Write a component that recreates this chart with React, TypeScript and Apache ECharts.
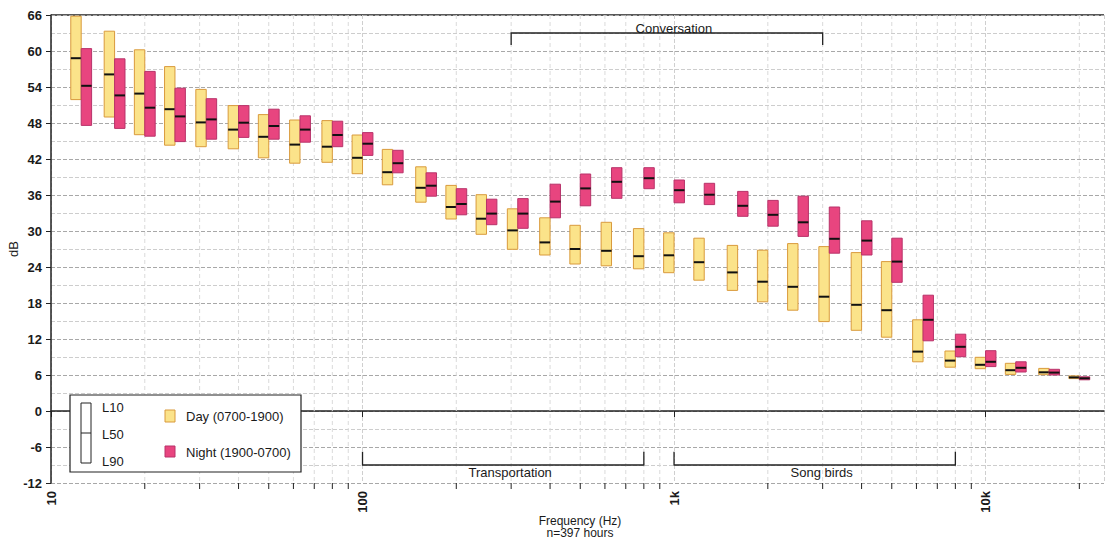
import React, { useEffect, useRef } from "react";
import * as echarts from "echarts";

// 1/3-octave band centre frequencies (Hz)
const freqs = [12.5, 16, 20, 25, 31.5, 40, 50, 63, 80, 100, 125, 160, 200, 250, 315, 400, 500, 630, 800, 1000, 1250, 1600, 2000, 2500, 3150, 4000, 5000, 6300, 8000, 10000, 12500, 16000, 20000];

const dayL10 = [65.8, 63.3, 60.2, 57.4, 53.6, 50.9, 49.4, 48.5, 48.4, 46.0, 43.6, 40.7, 37.6, 36.05, 33.7, 32.2, 30.95, 31.45, 30.4, 29.7, 28.8, 27.6, 26.8, 27.9, 27.4, 26.4, 24.9, 15.2, 10.0, 8.95, 7.95, 7.1, 5.85];
const dayL50 = [58.8, 56.1, 52.9, 50.3, 48.1, 46.9, 45.7, 44.4, 44.05, 42.2, 39.8, 37.2, 34.0, 32.05, 30.1, 28.1, 27.0, 26.7, 25.8, 25.95, 24.8, 23.1, 21.55, 20.7, 19.05, 17.7, 16.8, 9.9, 8.4, 7.7, 6.8, 6.45, 5.6];
const dayL90 = [51.9, 49.0, 46.05, 44.3, 44.05, 43.7, 42.2, 41.3, 41.45, 39.55, 37.7, 34.8, 32.0, 29.45, 26.95, 26.0, 24.5, 24.2, 23.7, 23.05, 21.8, 20.1, 18.2, 16.8, 14.9, 13.45, 12.3, 8.2, 7.3, 7.05, 6.1, 6.05, 5.4];

const nightL10 = [60.4, 58.7, 56.6, 53.8, 52.05, 50.9, 50.3, 49.2, 48.3, 46.4, 43.45, 39.7, 37.05, 35.3, 35.4, 37.8, 39.5, 40.55, 40.55, 38.5, 37.95, 36.6, 35.1, 35.8, 34.0, 31.7, 28.8, 19.3, 12.8, 10.05, 8.2, 6.95, 5.7];
const nightL50 = [54.2, 52.6, 50.55, 49.1, 48.6, 48.05, 47.5, 46.9, 46.0, 44.55, 41.3, 37.55, 34.5, 32.9, 32.9, 34.9, 37.1, 38.2, 38.8, 36.8, 36.05, 34.2, 32.7, 31.45, 28.7, 28.4, 24.9, 15.2, 10.7, 8.2, 7.2, 6.4, 5.45];
const nightL90 = [47.6, 47.1, 45.8, 44.9, 45.3, 45.6, 45.3, 44.8, 44.05, 42.6, 39.7, 35.8, 32.7, 31.05, 30.45, 32.2, 34.2, 35.45, 37.05, 34.7, 34.4, 32.45, 30.8, 29.1, 26.3, 26.0, 21.45, 11.7, 9.05, 7.4, 6.5, 6.0, 5.2];

// minor log ticks (Hz)
const minorTicks = [20, 30, 40, 50, 60, 70, 80, 90, 200, 300, 400, 500, 600, 700, 800, 900, 2000, 3000, 4000, 5000, 6000, 7000, 8000, 9000, 20000];

// annotation brackets
const annNames = ["Conversation", "Transportation", "Song birds"];
const annFrom = [300, 100, 1000];
const annTo = [3000, 800, 8000];
const annLevel = [63, -9, -9];
const annTickEnd = [61, -6.8, -6.8];

const BOX_RATIO = 1.08;
const FONT = "'Liberation Sans', Arial, sans-serif";
const TXT = "#1a1a1a";

export default function App() {
  const ref = useRef<HTMLDivElement>(null);
  useEffect(() => {
    document.body.style.margin = "0";
    const chart = echarts.init(ref.current!, null, { renderer: "svg" });

    const boxItem = (isDay: boolean, color: string, stroke: string) => (params: any, api: any) => {
      const f = api.value(0);
      const l10 = api.value(1);
      const l50 = api.value(2);
      const l90 = api.value(3);
      const fa = isDay ? f / BOX_RATIO : f;
      const fb = isDay ? f : f * BOX_RATIO;
      const pa = api.coord([fa, l10]);
      const pb = api.coord([fb, l90]);
      const pm = api.coord([f, l50]);
      return {
        type: "group",
        children: [
          {
            type: "rect",
            shape: { x: pa[0], y: pa[1], width: pb[0] - pa[0], height: pb[1] - pa[1] },
            style: { fill: color, stroke: stroke, lineWidth: 1 },
          },
          {
            type: "line",
            shape: { x1: pa[0], y1: pm[1], x2: pb[0], y2: pm[1] },
            style: { stroke: "#111", lineWidth: 2 },
          },
        ],
      };
    };

    const option: any = {
      animation: false,
      backgroundColor: "#fff",
      textStyle: { fontFamily: FONT },
      grid: { left: 51, right: 2, top: 15, bottom: 57, containLabel: false, outerBoundsMode: "none" },
      xAxis: {
        type: "log",
        logBase: 10,
        min: 10,
        max: 24000,
        interval: 1,
        axisLine: { show: true, lineStyle: { color: "#222", width: 1.5 } },
        axisTick: { show: true, length: 6, lineStyle: { color: "#222" } },
        axisLabel: {
          rotate: 90,
          margin: 8,
          fontSize: 13,
          fontWeight: "bold",
          color: TXT,
          fontFamily: FONT,
          showMaxLabel: false,
          formatter: (v: number) => {
            const r = Math.round(v);
            return r >= 1000 ? r / 1000 + "k" : String(r);
          },
        },
        splitLine: { show: true, lineStyle: { color: "#cfcfcf", type: "dashed", width: 1 } },
      },
      yAxis: {
        type: "value",
        min: -12,
        max: 66,
        interval: 6,
        name: "dB",
        nameLocation: "middle",
        nameGap: 31,
        nameMoveOverlap: false,
        nameTextStyle: { fontSize: 13, color: TXT, fontFamily: FONT },
        axisLine: { show: true, lineStyle: { color: "#222", width: 1.5 } },
        axisTick: { show: true, length: 5, lineStyle: { color: "#222" } },
        axisLabel: { fontSize: 13, fontWeight: "bold", color: TXT, margin: 9, fontFamily: FONT },
        splitLine: { show: true, lineStyle: { color: "#a8a8a8", type: "dashed", width: 1 } },
        minorTick: { show: false, splitNumber: 2 },
        minorSplitLine: { show: true, lineStyle: { color: "#cdcdcd", type: "dashed", width: 1 } },
      },
      series: [
        {
          type: "custom",
          name: "minor",
          clip: false,
          z: 1,
          silent: true,
          data: minorTicks.map((f) => [f]),
          encode: { x: 0 },
          renderItem: (params: any, api: any) => {
            const f = api.value(0);
            const top = api.coord([f, 66]);
            const bot = api.coord([f, -12]);
            return {
              type: "group",
              children: [
                {
                  type: "line",
                  shape: { x1: top[0], y1: top[1], x2: bot[0], y2: bot[1] },
                  style: { stroke: "#dadada", lineWidth: 1, lineDash: [4, 3] },
                },
                {
                  type: "line",
                  shape: { x1: bot[0], y1: bot[1], x2: bot[0], y2: bot[1] + 6 },
                  style: { stroke: "#222", lineWidth: 1 },
                },
              ],
            };
          },
        },
        {
          type: "custom",
          name: "Day (0700-1900)",
          z: 5,
          data: freqs.map((f, i) => [f, dayL10[i], dayL50[i], dayL90[i]]),
          encode: { x: 0, y: [1, 2, 3] },
          renderItem: boxItem(true, "#FBE38A", "#D99A3C"),
        },
        {
          type: "custom",
          name: "Night (1900-0700)",
          z: 5,
          data: freqs.map((f, i) => [f, nightL10[i], nightL50[i], nightL90[i]]),
          encode: { x: 0, y: [1, 2, 3] },
          renderItem: boxItem(false, "#E8457F", "#B8336A"),
        },
        {
          type: "custom",
          name: "annotations",
          z: 6,
          clip: false,
          silent: true,
          data: annNames.map((_, i) => [annFrom[i], annTo[i], annLevel[i], annTickEnd[i]]),
          encode: { x: [0, 1], y: [2, 3] },
          renderItem: (params: any, api: any) => {
            const i = params.dataIndex;
            const a = api.coord([api.value(0), api.value(2)]);
            const b = api.coord([api.value(1), api.value(2)]);
            const t = api.coord([api.value(0), api.value(3)]);
            const above = t[1] > a[1];
            return {
              type: "group",
              children: [
                {
                  type: "polyline",
                  shape: { points: [[a[0], t[1]], [a[0], a[1]], [b[0], b[1]], [b[0], t[1]]] },
                  style: { stroke: "#222", lineWidth: 1.3, fill: null },
                },
                {
                  type: "text",
                  x: (a[0] + b[0]) / 2 + 7,
                  y: above ? a[1] - 5 : a[1] + 7,
                  style: {
                    text: annNames[i],
                    fontSize: 13,
                    fontFamily: FONT,
                    fill: TXT,
                    align: "center",
                    verticalAlign: "middle",
                  },
                },
              ],
            };
          },
        },
      ],
      graphic: [
        { type: "line", shape: { x1: 51, y1: 15, x2: 1104, y2: 15 }, style: { stroke: "#222", lineWidth: 1.5 } },
        // legend box
        { type: "rect", shape: { x: 70, y: 395, width: 231, height: 77 }, style: { fill: "#fff", stroke: "#222", lineWidth: 1.2 }, z: 10 },
        { type: "rect", shape: { x: 81, y: 403, width: 10, height: 60 }, style: { fill: "#fff", stroke: "#222", lineWidth: 1 }, z: 11 },
        { type: "line", shape: { x1: 81, y1: 433, x2: 91, y2: 433 }, style: { stroke: "#222", lineWidth: 1 }, z: 11 },
        { type: "text", x: 102, y: 407, style: { text: "L10", fontSize: 13, fontFamily: FONT, fill: TXT, verticalAlign: "middle" }, z: 11 },
        { type: "text", x: 102, y: 434, style: { text: "L50", fontSize: 13, fontFamily: FONT, fill: TXT, verticalAlign: "middle" }, z: 11 },
        { type: "text", x: 102, y: 461, style: { text: "L90", fontSize: 13, fontFamily: FONT, fill: TXT, verticalAlign: "middle" }, z: 11 },
        { type: "rect", shape: { x: 165, y: 410, width: 10, height: 12 }, style: { fill: "#FBE38A", stroke: "#D99A3C", lineWidth: 1 }, z: 11 },
        { type: "text", x: 186, y: 416, style: { text: "Day (0700-1900)", fontSize: 13, fontFamily: FONT, fill: TXT, verticalAlign: "middle" }, z: 11 },
        { type: "rect", shape: { x: 165, y: 446, width: 10, height: 11 }, style: { fill: "#E8457F", stroke: "#B8336A", lineWidth: 1 }, z: 11 },
        { type: "text", x: 186, y: 452, style: { text: "Night (1900-0700)", fontSize: 13, fontFamily: FONT, fill: TXT, verticalAlign: "middle" }, z: 11 },
        // x axis title
        { type: "text", x: 580, y: 521, style: { text: "Frequency (Hz)", fontSize: 12, fontFamily: FONT, fill: TXT, align: "center", verticalAlign: "middle" } },
        { type: "text", x: 580, y: 533, style: { text: "n=397 hours", fontSize: 12, fontFamily: FONT, fill: TXT, align: "center", verticalAlign: "middle" } },
      ],
    };
    chart.setOption(option);
    return () => chart.dispose();
  }, []);
  return <div ref={ref} style={{ width: 1106, height: 540 }} />;
}
